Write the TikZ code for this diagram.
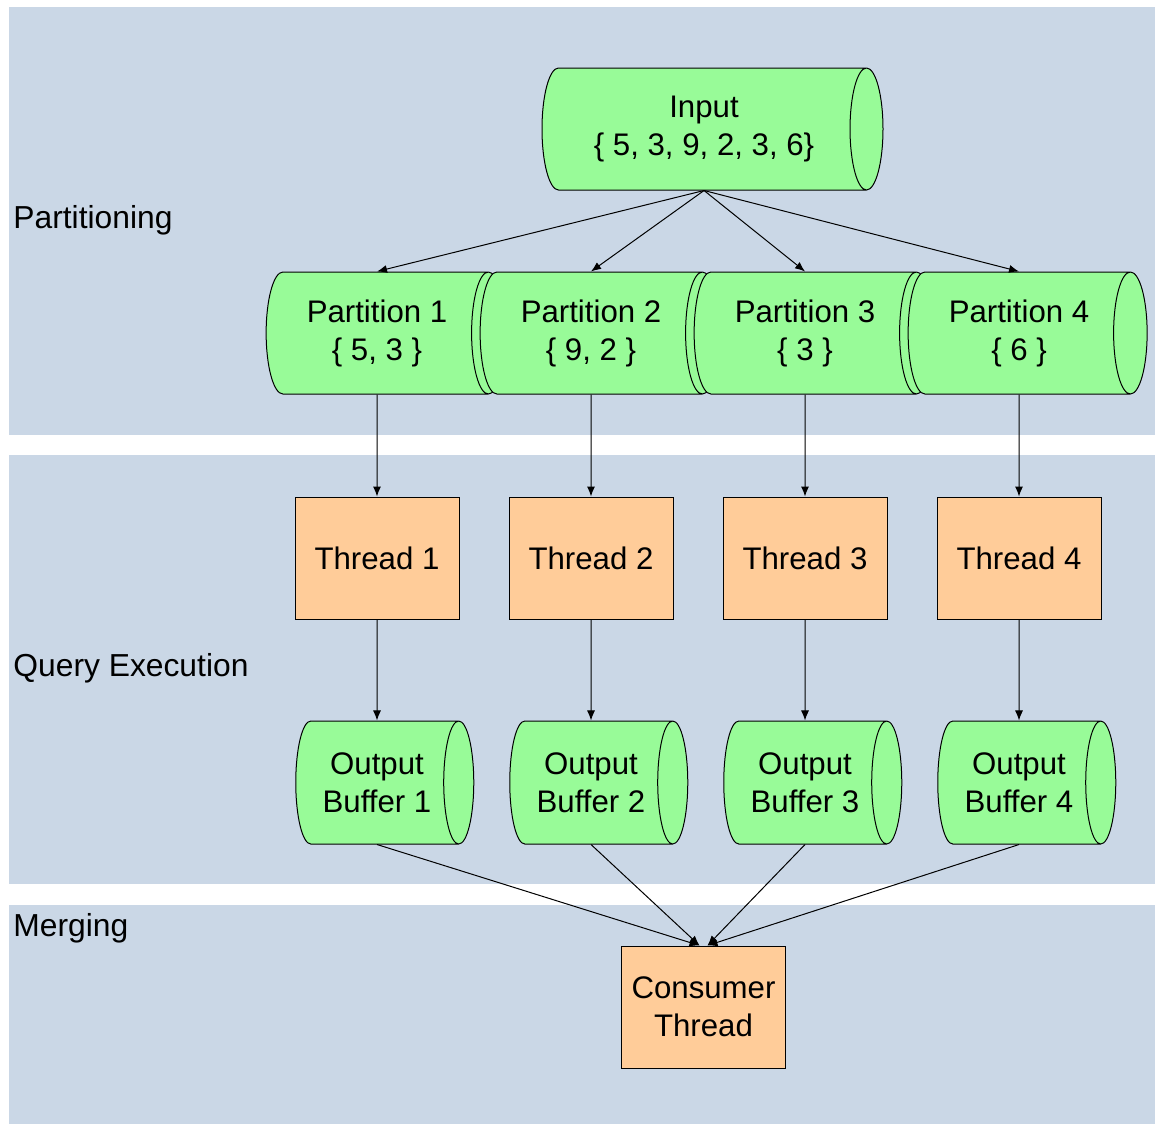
\documentclass[tikz,border=0pt]{standalone}
\usepackage{fontspec}
\setmainfont{Liberation Sans}
\usetikzlibrary{positioning}
\usetikzlibrary{shapes.geometric}
\usetikzlibrary{arrows.meta}

\definecolor{bandblue}{RGB}{202,215,230}
\definecolor{storegreen}{RGB}{152,251,152}
\definecolor{workerorange}{RGB}{255,204,153}

\tikzset{
  store/.style={cylinder, draw, fill=storegreen, aspect=0.5, align=center,
    inner sep=0pt, line width=0.5pt},
  worker/.style={rectangle, draw, fill=workerorange, align=center,
    minimum width=82pt, minimum height=61pt, inner sep=0pt, line width=0.5pt},
  flow/.style={-{Latex[length=5pt,width=4pt]}, line width=0.5pt},
  band/.style={fill=bandblue, draw=none},
  phase/.style={anchor=west, inner sep=0pt, font=\fontsize{15.9}{19}\selectfont}
}

\begin{document}
\begin{tikzpicture}[x=0.5pt, y=-0.5pt, font=\fontsize{15.6}{19}\selectfont]
    \useasboundingbox (0,0) rectangle (1155,1124);

    % the three phases
    \fill[bandblue] (9,7) rectangle (1155,435);
    \fill[bandblue] (9,455) rectangle (1155,884);
    \fill[bandblue] (9,905) rectangle (1155,1124);
    \node[phase] (lpart) at (13,220) {Partitioning};
    \node[phase] (lquery) at (13,668) {Query Execution};
    \node[phase] (lmerge) at (13,928) {Merging};

    \node[store, minimum width=61pt, minimum height=170.5pt] (in) at (704,129)
        {Input\\\{ 5, 3, 9, 2, 3, 6\}};

    % one column per partition
    \foreach \i/\vals in {1/{5, 3},2/{9, 2},3/3,4/6}
        {\node[store, minimum width=61pt, minimum height=119.5pt] (p\i) at ({377+214*(\i-1)},333)
            {Partition \i\\\{ \vals\ \}};}
    \foreach \i in {1,...,4}
        {\node[worker] (t\i) at ({377+214*(\i-1)},558) {Thread \i};
         \node[store, minimum width=61.5pt, minimum height=89pt] (b\i) at ({377+214*(\i-1)},782.5)
            {Output\\Buffer \i};}

    \node[worker] (cons) at (703.5,1007) {Consumer\\Thread};

    \foreach \i in {1,...,4}
        {\draw[flow] (in.south) -- (p\i.north);
         \draw[flow] (p\i.south) -- (t\i.north);
         \draw[flow] (t\i.south) -- (b\i.north);}
    \draw[flow] (b1.south) -- ([xshift=-2pt]cons.north);
    \draw[flow] (b2.south) -- ([xshift=-2pt]cons.north);
    \draw[flow] (b3.south) -- ([xshift=2pt]cons.north);
    \draw[flow] (b4.south) -- ([xshift=2pt]cons.north);
\end{tikzpicture}
\end{document}
